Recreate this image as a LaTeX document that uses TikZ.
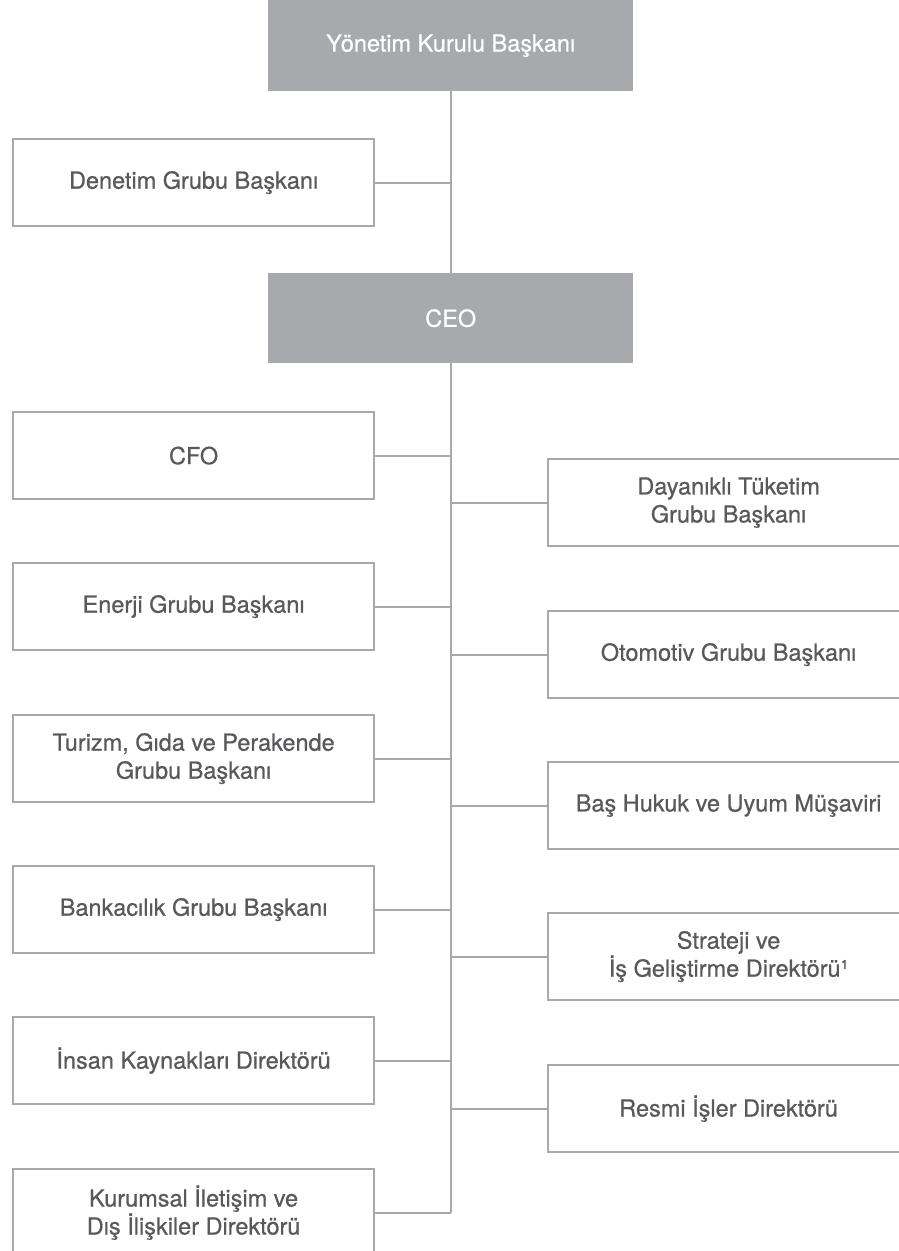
\documentclass[tikz,border=0pt]{standalone}
\usepackage{fontspec}
\setmainfont[FakeBold=0.6]{TeX Gyre Heros}
\definecolor{boxgray}{HTML}{A7A9AC}
\definecolor{txtgray}{HTML}{58595B}
\pgfdeclarelayer{background}
\pgfsetlayers{background,main}
\begin{document}
\begin{tikzpicture}[x=1pt,y=-1pt,
  font=\fontsize{23.5}{28}\selectfont,
  headbox/.style={fill=boxgray, text=white, minimum width=365pt, minimum height=91pt, inner sep=0pt, anchor=north west},
  unitbox/.style={draw=boxgray, line width=2.2pt, fill=white, text=txtgray, minimum width=361pt, minimum height=87pt, inner sep=0pt, anchor=north west, align=center},
  link/.style={draw=boxgray, line width=2.2pt}]
\useasboundingbox (0,0) rectangle (899,1251);
\clip (0,0) rectangle (899,1251);
% head boxes
\node[headbox] (top) at (268,0) {Yönetim Kurulu Başkanı};
\node[headbox, minimum height=90pt] (ceo) at (268,273) {CEO};
% left column
\node[unitbox] (den) at (12,138) {Denetim Grubu Başkanı};
\node[unitbox] (cfo) at (12,411) {CFO};
\node[unitbox] (ene) at (12,562) {Enerji Grubu Başkanı};
\node[unitbox] (tur) at (12,714) {Turizm, Gıda ve Perakende\\Grubu Başkanı};
\node[unitbox] (ban) at (12,865) {Bankacılık Grubu Başkanı};
\node[unitbox] (ins) at (12,1016) {İnsan Kaynakları Direktörü};
\node[unitbox] (kur) at (12,1168) {Kurumsal İletişim ve\\Dış İlişkiler Direktörü};
% right column
\node[unitbox] (day) at (547,458) {Dayanıklı Tüketim\\Grubu Başkanı};
\node[unitbox] (oto) at (547,610) {Otomotiv Grubu Başkanı};
\node[unitbox] (bas) at (547,761) {Baş Hukuk ve Uyum Müşaviri};
\node[unitbox] (str) at (547,912) {Strateji ve\\İş Geliştirme Direktörü¹};
\node[unitbox] (res) at (547,1064) {Resmi İşler Direktörü};
\begin{pgfonlayer}{background}
% trunk
\draw[link] (top.south) -- (kur.east -| top.south);
% connectors
\foreach \n in {den,cfo,ene,tur,ban,ins,kur}
  \draw[link] (\n.east) -- (\n.east -| top.south);
\foreach \n in {day,oto,bas,str,res}
  \draw[link] (\n.west) -- (\n.west -| top.south);
\end{pgfonlayer}
\end{tikzpicture}
\end{document}
